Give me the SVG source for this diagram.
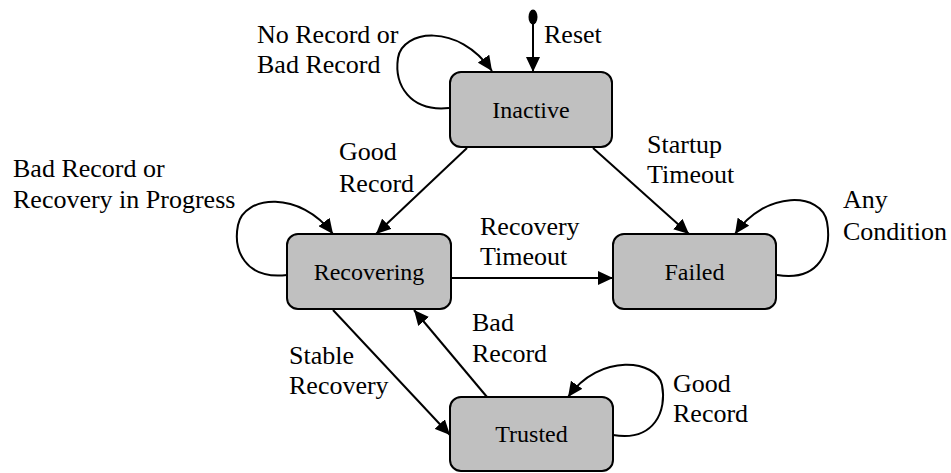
<svg xmlns="http://www.w3.org/2000/svg" width="951" height="473" viewBox="0 0 951 473">
<style>
.box{fill:#c0c0c0;stroke:#000;stroke-width:2}
.name{font-family:'Liberation Serif','Times New Roman','DejaVu Serif',serif;font-size:24px;fill:#000;text-anchor:middle}
.lbl{font-family:'Liberation Serif','Times New Roman','DejaVu Serif',serif;font-size:26px;fill:#000}
.edge{fill:none;stroke:#000;stroke-width:2;marker-end:url(#arr)}
</style>
<defs>
<marker id="arr" viewBox="0 0 15 14" refX="15" refY="7" markerWidth="15" markerHeight="14" orient="auto" markerUnits="userSpaceOnUse">
<path d="M0,0 L15,7 L0,14 z" fill="#000"/>
</marker>
</defs>
<rect width="951" height="473" fill="#fff"/>
<g id="connectors">
<ellipse cx="533" cy="17" rx="4.5" ry="7.5" fill="#000"/>
<path class="edge" d="M533,24 L533,72"/>
<path class="edge" d="M449,108 C410,112 394,85 398,58 C402,30 458,22 492,71"/>
<path class="edge" d="M467,148 L376,234"/>
<path class="edge" d="M593,148 L689,234"/>
<path class="edge" d="M287,275 C245,280 233,250 238,225 C244,195 300,190 333,234"/>
<path class="edge" d="M777,275 C820,282 832,250 827,222 C822,192 765,190 735,234"/>
<path class="edge" d="M451,278 L613,278"/>
<path class="edge" d="M333,310 L450,435"/>
<path class="edge" d="M487,397 L414,310"/>
<path class="edge" d="M613,435 C655,442 667,410 662,385 C657,360 600,352 568,397"/>
<text class="lbl" x="257" y="43">No Record or</text>
<text class="lbl" x="257" y="73">Bad Record</text>
<text class="lbl" x="544" y="43">Reset</text>
<text class="lbl" x="339" y="160">Good</text>
<text class="lbl" x="339" y="192">Record</text>
<text class="lbl" x="647" y="153">Startup</text>
<text class="lbl" x="647" y="183">Timeout</text>
<text class="lbl" x="13" y="177">Bad Record or</text>
<text class="lbl" x="13" y="208">Recovery in Progress</text>
<text class="lbl" x="480" y="235">Recovery</text>
<text class="lbl" x="480" y="265">Timeout</text>
<text class="lbl" x="843" y="208">Any</text>
<text class="lbl" x="843" y="240">Condition</text>
<text class="lbl" x="289" y="364">Stable</text>
<text class="lbl" x="289" y="394">Recovery</text>
<text class="lbl" x="472" y="331">Bad</text>
<text class="lbl" x="472" y="362">Record</text>
<text class="lbl" x="673" y="392">Good</text>
<text class="lbl" x="673" y="422">Record</text>
</g>
<g id="inactive">
<rect class="box" x="450" y="72" width="162" height="75" rx="11"/>
<text class="name" x="531" y="118">Inactive</text>
</g>
<g id="recovering">
<rect class="box" x="287" y="234" width="164" height="75" rx="11"/>
<text class="name" x="369" y="280">Recovering</text>
</g>
<g id="failed">
<rect class="box" x="613" y="234" width="163" height="75" rx="11"/>
<text class="name" x="694.5" y="280">Failed</text>
</g>
<g id="trusted">
<rect class="box" x="450" y="397" width="163" height="74" rx="11"/>
<text class="name" x="531.5" y="442">Trusted</text>
</g>
</svg>
